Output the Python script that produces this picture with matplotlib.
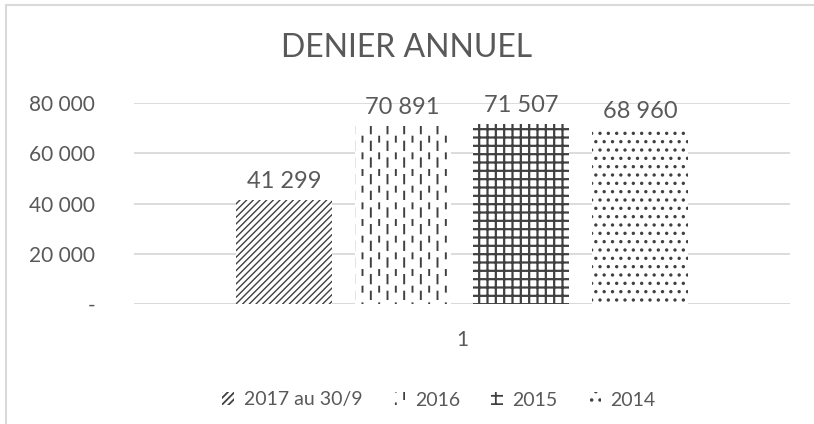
import numpy as np
import matplotlib
matplotlib.use("Agg")
import matplotlib.pyplot as plt
import matplotlib.hatch as mhatch
from matplotlib.path import Path
from matplotlib.lines import Line2D
from matplotlib.patches import Patch

# ---- data ----
title = "DENIER ANNUEL"
categories = ["1"]
series_names = ["2017 au 30/9", "2016", "2015", "2014"]
series_values = [41299, 70891, 71507, 68960]
y_ticks = [0, 20000, 40000, 60000, 80000]
y_tick_labels = ["-", "20 000", "40 000", "60 000", "80 000"]
value_labels = ["41 299", "70 891", "71 507", "68 960"]

# ---- custom dashed vertical hatch ('|' only; '+' stays solid) ----
class DashedVerticalHatch(mhatch.HatchPatternBase):
    def __init__(self, hatch, density):
        self.num_cols = int(hatch.count('|') * density)
        self.num_rows = 6
        self.num_vertices = self.num_cols * self.num_rows * 2

    def set_vertices_and_codes(self, vertices, codes):
        xs, xstep = np.linspace(0.0, 1.0, self.num_cols, False, retstep=True)
        xs += xstep / 2.
        rstep = 1.0 / self.num_rows
        k = 0
        for i, x in enumerate(xs):
            off = 0.0 if i % 2 == 0 else rstep / 2.
            dl = 0.5 * rstep if i % 2 == 0 else 0.3 * rstep
            for j in range(self.num_rows):
                y0 = (j * rstep + off) % 1.0
                y1 = min(y0 + dl, 1.0)
                vertices[k] = (x, y0)
                vertices[k + 1] = (x, y1)
                codes[k] = Path.MOVETO
                codes[k + 1] = Path.LINETO
                k += 2


class SolidPlusVerticalHatch(mhatch.HatchPatternBase):
    def __init__(self, hatch, density):
        self.num_lines = int(hatch.count('+') * density)
        self.num_vertices = self.num_lines * 2

    def set_vertices_and_codes(self, vertices, codes):
        steps, stepsize = np.linspace(0.0, 1.0, self.num_lines, False, retstep=True)
        steps += stepsize / 2.
        vertices[0::2, 0] = steps
        vertices[0::2, 1] = 0.0
        vertices[1::2, 0] = steps
        vertices[1::2, 1] = 1.0
        codes[0::2] = Path.MOVETO
        codes[1::2] = Path.LINETO


mhatch._hatch_types = [DashedVerticalHatch if t is mhatch.VerticalHatch else t
                       for t in mhatch._hatch_types]
mhatch._hatch_types.append(SolidPlusVerticalHatch)

hatches = ["/////", "||", "++", ".."]
hatch_lws = [1.0, 1.4, 1.6, 1.2]

TEXT = "#595959"
GRID = "#d9d9d9"
HATCH = "#404040"
FONT = ["Lato", "DejaVu Sans"]

plt.rcParams['font.family'] = FONT
plt.rcParams['hatch.color'] = HATCH
plt.rcParams['hatch.linewidth'] = 1.3

fig = plt.figure(figsize=(8.14, 4.24), dpi=100)
ax = fig.add_axes([134 / 814, 1 - 304 / 424, (790 - 134) / 814, (304 - 103) / 424])

n = len(series_names)
width = 0.146
step = 0.181
x0 = 1
for i, (name, val, h) in enumerate(zip(series_names, series_values, hatches)):
    xpos = x0 + (i - (n - 1) / 2) * step
    bc = ax.bar([xpos], [val], width=width, color="white", edgecolor=HATCH,
                linewidth=0, hatch=h, label=name, zorder=2)
    for p in bc.patches:
        if hasattr(p, "set_hatch_linewidth"):
            p.set_hatch_linewidth(hatch_lws[i])
    ax.annotate(value_labels[i], (xpos, val), xytext=(0, 6), textcoords="offset points",
                ha="center", va="bottom", fontsize=17, color=TEXT)

ax.set_xlim(0.5, 1.5)
ax.set_ylim(0, 80000)
ax.set_yticks(y_ticks)
ax.set_yticklabels(y_tick_labels)
ax.set_xticks([1])
ax.set_xticklabels(categories)
ax.tick_params(axis="both", length=0, labelsize=15, labelcolor=TEXT)
ax.tick_params(axis="y", pad=28)
ax.tick_params(axis="x", pad=19)
ax.yaxis.grid(True, color=GRID, linewidth=1.3, zorder=0)
ax.set_axisbelow(True)
for s in ax.spines.values():
    s.set_visible(False)
ax.axhline(0, color=GRID, linewidth=1.3, zorder=1)

fig.text(0.5, 1 - 48 / 424, title, ha="center", va="center", fontsize=23, color=TEXT)

handles = []
for h, lw in zip(hatches, hatch_lws):
    p = Patch(facecolor="white", edgecolor=HATCH, linewidth=0, hatch=h)
    if hasattr(p, "set_hatch_linewidth"):
        p.set_hatch_linewidth(lw)
    handles.append(p)
leg = fig.legend(handles, series_names, loc="center", bbox_to_anchor=(439 / 814, 1 - 400 / 424),
                 ncol=4, frameon=False, fontsize=14, labelcolor=TEXT,
                 handlelength=0.6, handleheight=0.6, handletextpad=0.5, columnspacing=1.6)

# outer chart border (left and top visible)
fig.add_artist(Line2D([6 / 814, 6 / 814], [0, 1 - 5 / 424], color=GRID, linewidth=1.5,
                      transform=fig.transFigure))
fig.add_artist(Line2D([6 / 814, 1], [1 - 5 / 424, 1 - 5 / 424], color=GRID, linewidth=1.5,
                      transform=fig.transFigure))

fig.savefig("out.png", dpi=100)
